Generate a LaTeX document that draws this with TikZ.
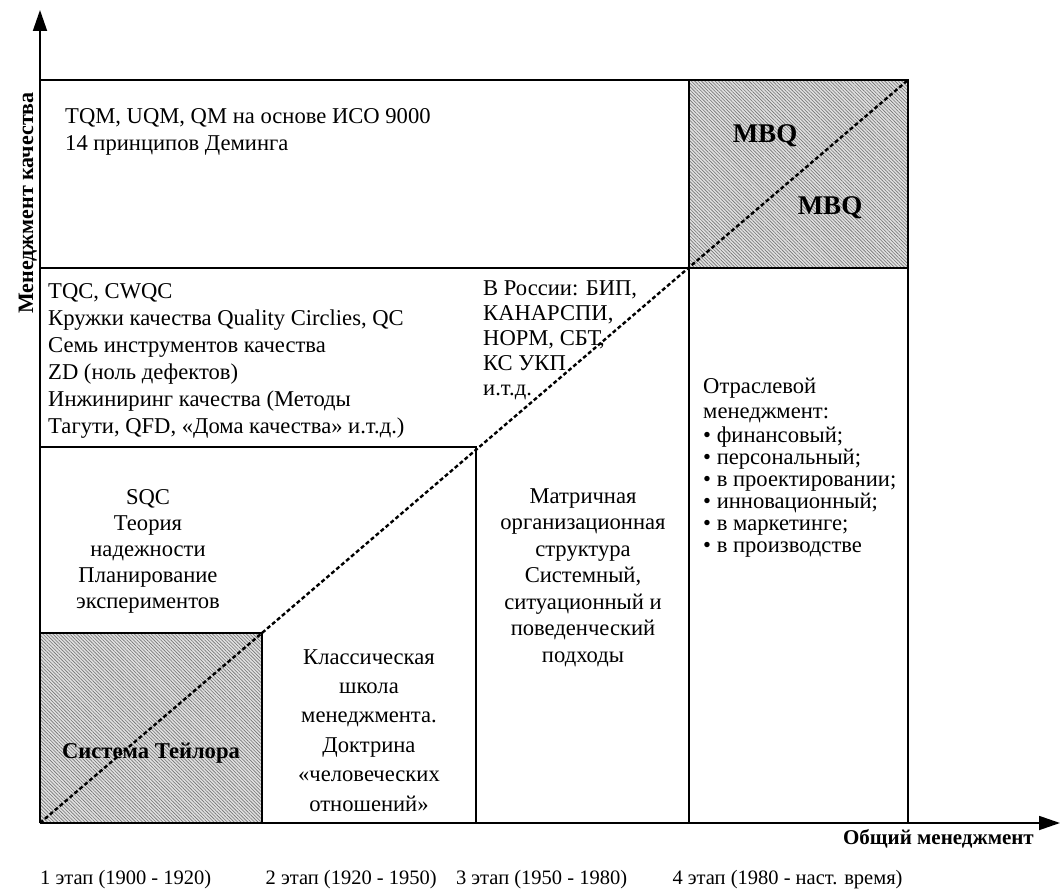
\documentclass[tikz,border=0pt]{standalone}
\usepackage{fontspec}
\setmainfont{Liberation Serif}
\usetikzlibrary{positioning}
\usetikzlibrary{arrows.meta}
\usetikzlibrary{patterns.meta}

\begin{document}
\begin{tikzpicture}[
		x=1pt, y=-1pt,
		node distance=28pt,
		frame/.style={line width=1.4pt},
		ax/.style={line width=1.8pt, -{Triangle[length=21pt, width=14pt]}},
		diag/.style={line width=2.4pt, dash pattern=on 4pt off 2.5pt},
		hatch/.style={fill=black!12, postaction={pattern={Lines[angle=-45, distance=2.4pt, line width=0.6pt]}, pattern color=black!55}},
		tl/.style={inner sep=0pt, align=left, font=\fontsize{22.6}{27}\selectfont},
		tc/.style={inner sep=0pt, align=center, font=\fontsize{22.6}{26.5}\selectfont},
		tb/.style={inner sep=0pt, font=\fontsize{22.6}{27}\selectfont\bfseries},
		al/.style={inner sep=0pt, font=\fontsize{21}{24}\selectfont\bfseries},
		st/.style={inner sep=0pt, font=\fontsize{20.5}{24}\selectfont},
	]
	\useasboundingbox (0,0) rectangle (1061,890);
	\coordinate (O) at (40,823);
	\coordinate (Ytip) at (40,10);
	\coordinate (Xtip) at (1060,823);
	\coordinate (Diag) at (908,80);

	% hatched cells
	\path[hatch] (40,633) rectangle (262,823);
	\path[hatch] (689,80) rectangle (908,268);

	% grid
	\draw[frame] (40,80) -- (908,80) -- (908,823);
	\draw[frame] (40,268) -- (908,268);
	\draw[frame] (40,447) -- (476,447) -- (476,823);
	\draw[frame] (689,80) -- (689,823);
	\draw[frame] (40,633) -- (262,633) -- (262,823);

	% axes and diagonal
	\draw[ax] (O) -- (Ytip);
	\draw[ax] (O) -- (Xtip);
	\draw[diag] (O) -- (Diag);

	% cells (base = last line)
	\node[tl, anchor=base west] (TQM) at (65,151) {TQM, UQM, QM на основе ИСО 9000\\14 принципов Деминга};
	\node[tl, anchor=base west] (TQC) at (48,434) {TQC, CWQC\\Кружки качества Quality Circlies, QC\\Семь инструментов качества\\ZD (ноль дефектов)\\Инжиниринг качества (Методы\\Тагути, QFD, «Дома качества» и.т.д.)};
	\node[tl, anchor=base west, font=\fontsize{22.6}{25}\selectfont] (Rus) at (483,396) {В России: БИП,\\КАНАРСПИ,\\НОРМ, СБТ,\\КС УКП\\и.т.д.};
	\node[tl, anchor=base west, font=\fontsize{22.6}{22}\selectfont] (Otr) at (703,552) {Отраслевой\\[3pt]менеджмент:\\[2pt]• финансовый;\\• персональный;\\• в проектировании;\\• инновационный;\\• в маркетинге;\\• в производстве};
	\node[tc, anchor=base, font=\fontsize{22.6}{26}\selectfont] (SQC) at (148,608) {SQC\\Теория\\надежности\\Планирование\\экспериментов};
	\node[tc, anchor=base, font=\fontsize{22.6}{29.4}\selectfont] (Klass) at (369,811) {Классическая\\школа\\менеджмента.\\Доктрина\\«человеческих\\отношений»};
	\node[tc, anchor=base] (Matr) at (583,662) {Матричная\\организационная\\структура\\Системный,\\ситуационный и\\поведенческий\\подходы};
	\node[tb, anchor=base] (Taylor) at (151,758) {Система Тейлора};
	\node[tb, anchor=base, font=\fontsize{27}{30}\selectfont\bfseries] (MBQa) at (765,143) {MBQ};
	\node[tb, anchor=base, font=\fontsize{27}{30}\selectfont\bfseries] (MBQb) at (830,215) {MBQ};

	% axis labels
	\node[al, rotate=90, anchor=base, font=\fontsize{22}{24}\selectfont\bfseries] (Yl) at (33,203) {Менеджмент качества};
	\node[al, anchor=base east] (Xl) at (1034,844) {Общий менеджмент};

	% stages
	\node[st, anchor=base west] (S1) at (40,884) {1 этап (1900 - 1920)};
	\node[st, base right=54pt of S1] (S2) {2 этап (1920 - 1950)};
	\node[st, base right=19pt of S2] (S3) {3 этап (1950 - 1980)};
	\node[st, base right=45pt of S3] (S4) {4 этап (1980 - наст. время)};
\end{tikzpicture}
\end{document}
